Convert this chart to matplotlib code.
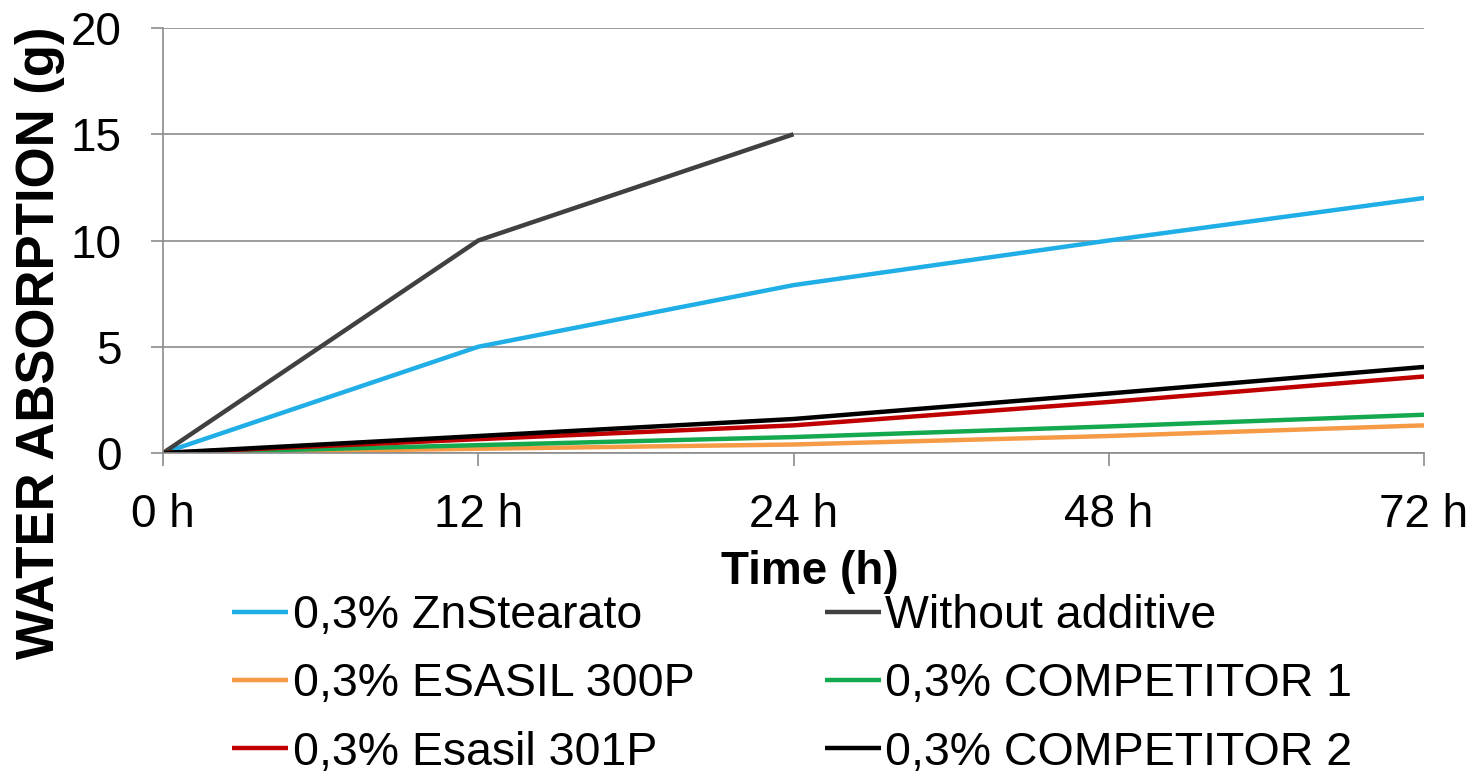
import matplotlib
matplotlib.use('Agg')

import matplotlib.pyplot as plt

plt.rcParams['font.family'] = ['Liberation Sans', 'DejaVu Sans']

# chart data
time_labels = ["0 h", "12 h", "24 h", "48 h", "72 h"]
zn_stearato = [0, 5.0, 7.9, 10.0, 12.0]
without_additive = [0, 10.0, 15.0]
esasil_300p = [0, 0.2, 0.4, 0.8, 1.3]
competitor_1 = [0, 0.37, 0.75, 1.25, 1.8]
esasil_301p = [0, 0.65, 1.3, 2.4, 3.6]
competitor_2 = [0, 0.8, 1.6, 2.8, 4.05]

series = [
    ("0,3% ZnStearato", zn_stearato, '#1FAEE6'),
    ("Without additive", without_additive, '#404040'),
    ("0,3% ESASIL 300P", esasil_300p, '#F59A45'),
    ("0,3% COMPETITOR 1", competitor_1, '#14A84F'),
    ("0,3% Esasil 301P", esasil_301p, '#C00000'),
    ("0,3% COMPETITOR 2", competitor_2, '#000000'),
]

fig = plt.figure(figsize=(14.81, 7.74), dpi=100)
ax = fig.add_axes([163/1481, 1 - 453/774, (1424 - 163)/1481, (453 - 28)/774])

lines = {}
for name, vals, col in series:
    ln, = ax.plot(range(len(vals)), vals, color=col, lw=3.2, solid_capstyle='butt')
    lines[name] = ln

ax.set_xlim(0, len(time_labels) - 1)
ax.set_ylim(0, 20)
ax.set_xticks(range(len(time_labels)))
ax.set_xticklabels(time_labels)
ax.set_yticks([0, 5, 10, 15, 20])

ax.grid(axis='y', color='#8c8c8c', lw=1.2)
ax.set_axisbelow(True)
for s in ['top', 'right']:
    ax.spines[s].set_visible(False)
for s in ['left', 'bottom']:
    ax.spines[s].set_color('#8c8c8c')
    ax.spines[s].set_linewidth(1.2)
ax.tick_params(axis='both', colors='#8c8c8c', labelcolor='black', labelsize=33,
               length=9, width=1.2)
ax.tick_params(axis='x', pad=20)
ax.tick_params(axis='y', pad=21)

fig.text(810/1481, 1 - 572/774, "Time (h)", fontsize=33, fontweight='bold',
         ha='center', va='center')
fig.text(40/1481, 1 - 343/774, "WATER ABSORPTION (g)", fontsize=38,
         fontweight='bold', rotation=90, ha='center', va='center')

# legend filled column-wise, so reorder to read row by row
order = ["0,3% ZnStearato", "0,3% ESASIL 300P", "0,3% Esasil 301P",
         "Without additive", "0,3% COMPETITOR 1", "0,3% COMPETITOR 2"]
fig.legend([lines[n] for n in order], order, ncol=2, frameon=False,
           loc='upper left', bbox_to_anchor=(209/1481, 1 - 571/774),
           fontsize=33.5, handlelength=1.2, handletextpad=0.1,
           columnspacing=2.8, labelspacing=0.52, borderpad=0)

fig.savefig('out.png', dpi=100)
